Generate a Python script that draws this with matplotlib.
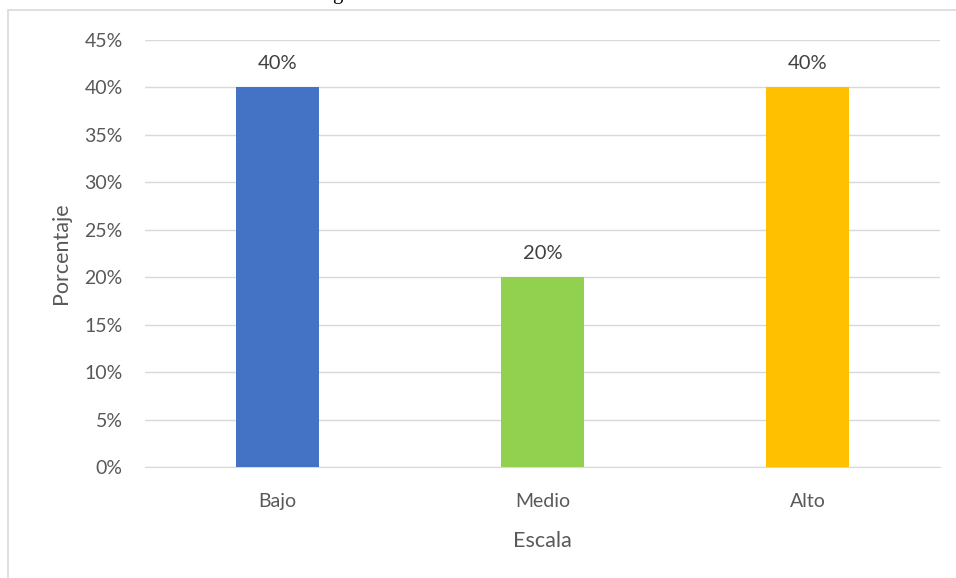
import matplotlib
matplotlib.use("Agg")
import matplotlib.pyplot as plt
from matplotlib.patches import Rectangle
from matplotlib.ticker import PercentFormatter

categories = ["Bajo", "Medio", "Alto"]
values = [40, 20, 40]
colors = ["#4472C4", "#92D050", "#FFC000"]
yticks = [0, 5, 10, 15, 20, 25, 30, 35, 40, 45]

plt.rcParams['font.family'] = ['Lato', 'DejaVu Sans']
txt = "#595959"

fig = plt.figure(figsize=(9.56, 5.78), dpi=100)
ax = fig.add_axes([145/956, 1-467/578, (940-145)/956, (467-40)/578])

x = range(len(categories))
bars = ax.bar(x, values, width=0.315, color=colors, zorder=3)
for xi, v in zip(x, values):
    ax.text(xi, v + 1.6, f"{v}%", ha="center", va="bottom", fontsize=14.5, color="#404040")

ax.set_xlim(-0.5, 2.5)
ax.set_ylim(0, 45)
ax.set_yticks(yticks)
ax.yaxis.set_major_formatter(PercentFormatter(decimals=0))
ax.set_xticks(list(x))
ax.set_xticklabels(categories)
ax.grid(axis="y", color="#d9d9d9", linewidth=1, zorder=0)
for s in ["top", "right", "left"]:
    ax.spines[s].set_visible(False)
ax.spines["bottom"].set_color("#d9d9d9")
ax.tick_params(axis="both", length=0, labelsize=14, colors=txt)
ax.tick_params(axis="y", pad=16)
ax.tick_params(axis="x", pad=19)
ax.set_xlabel("Escala", fontsize=15.5, color=txt, labelpad=15)
ax.set_ylabel("Porcentaje", fontsize=15.5, color=txt, labelpad=10)

fig.patches.append(Rectangle((8/956, -0.1), 1.1, 1 - 10/578 + 0.1, transform=fig.transFigure,
                             fill=False, edgecolor="#d9d9d9", linewidth=1.2))
fig.text(337/956, 1 + 0.5/578, "g", ha="center", va="baseline", fontsize=15,
         family="Liberation Serif", color="black")

fig.savefig("out.png", dpi=100)
